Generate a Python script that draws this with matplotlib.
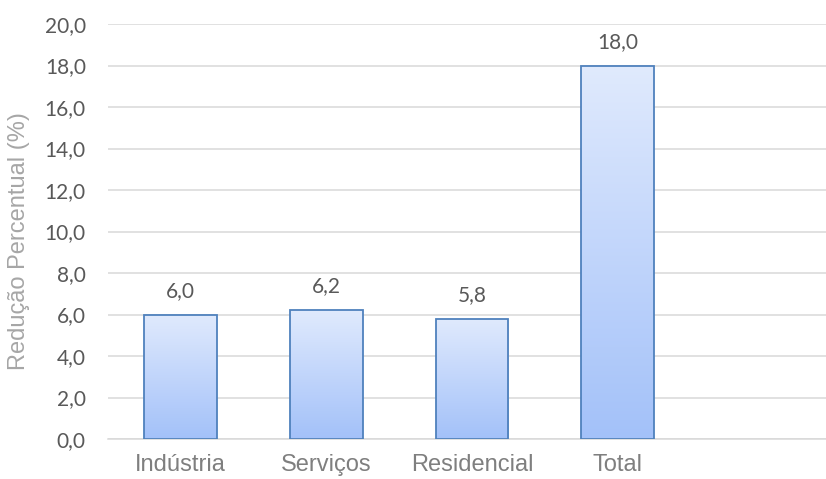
import matplotlib
matplotlib.use("Agg")
import matplotlib.pyplot as plt
import numpy as np
from matplotlib.ticker import FuncFormatter, MultipleLocator
from matplotlib.colors import LinearSegmentedColormap

categories = ["Indústria", "Serviços", "Residencial", "Total"]
values = [6.0, 6.2, 5.8, 18.0]
y_label = "Redução Percentual (%)"

W, H = 826, 479
fig = plt.figure(figsize=(W / 100, H / 100), dpi=100)
ax = fig.add_axes([108 / W, 40 / H, (836 - 108) / W, 415 / H])

num_font = "Lato"
txt_font = "Liberation Sans"

grad = LinearSegmentedColormap.from_list("bar", ["#a3c1f9", "#e0eafd"])
gradient = np.linspace(0, 1, 256).reshape(-1, 1)

x = np.arange(len(categories))
bars = ax.bar(x, values, width=0.5, facecolor="none", edgecolor="#4f81bd",
              linewidth=1.3, zorder=3)
for b in bars:
    x0, y0 = b.get_x(), b.get_y()
    w, h = b.get_width(), b.get_height()
    im = ax.imshow(gradient, cmap=grad, aspect="auto", origin="lower",
                   extent=[x0, x0 + w, y0, y0 + h], zorder=2)
    im.set_clip_path(b)

for xi, v in zip(x, values):
    ax.annotate(f"{v:.1f}".replace(".", ","), (xi, v), xytext=(0, 10),
                textcoords="offset points", ha="center", va="bottom",
                fontsize=15, color="#595959", family=num_font)

ax.set_xlim(-0.5, 4.5)
ax.set_ylim(0, 20)
ax.yaxis.set_major_locator(MultipleLocator(2))
ax.yaxis.set_major_formatter(FuncFormatter(lambda v, p: f"{v:.1f}".replace(".", ",")))
ax.set_xticks(x)
ax.set_xticklabels(categories, fontsize=17, color="#7f7f7f", family=txt_font)
for lab in ax.get_yticklabels():
    lab.set_fontsize(15)
    lab.set_color("#595959")
    lab.set_family(num_font)
ax.tick_params(axis="y", length=0, pad=16)
ax.tick_params(axis="x", length=0, pad=11)

ax.grid(axis="y", color="#d9d9d9", linewidth=1.1, zorder=0)
ax.set_axisbelow(True)
for s in ["top", "right", "left"]:
    ax.spines[s].set_visible(False)
ax.spines["bottom"].set_color("#d9d9d9")
ax.spines["bottom"].set_linewidth(1.1)

fig.text(19 / W, 1 - 241 / H, y_label, rotation=90, ha="center", va="center",
         fontsize=17, color="#a6a6a6", family=txt_font)

fig.savefig("out.png", dpi=100)
